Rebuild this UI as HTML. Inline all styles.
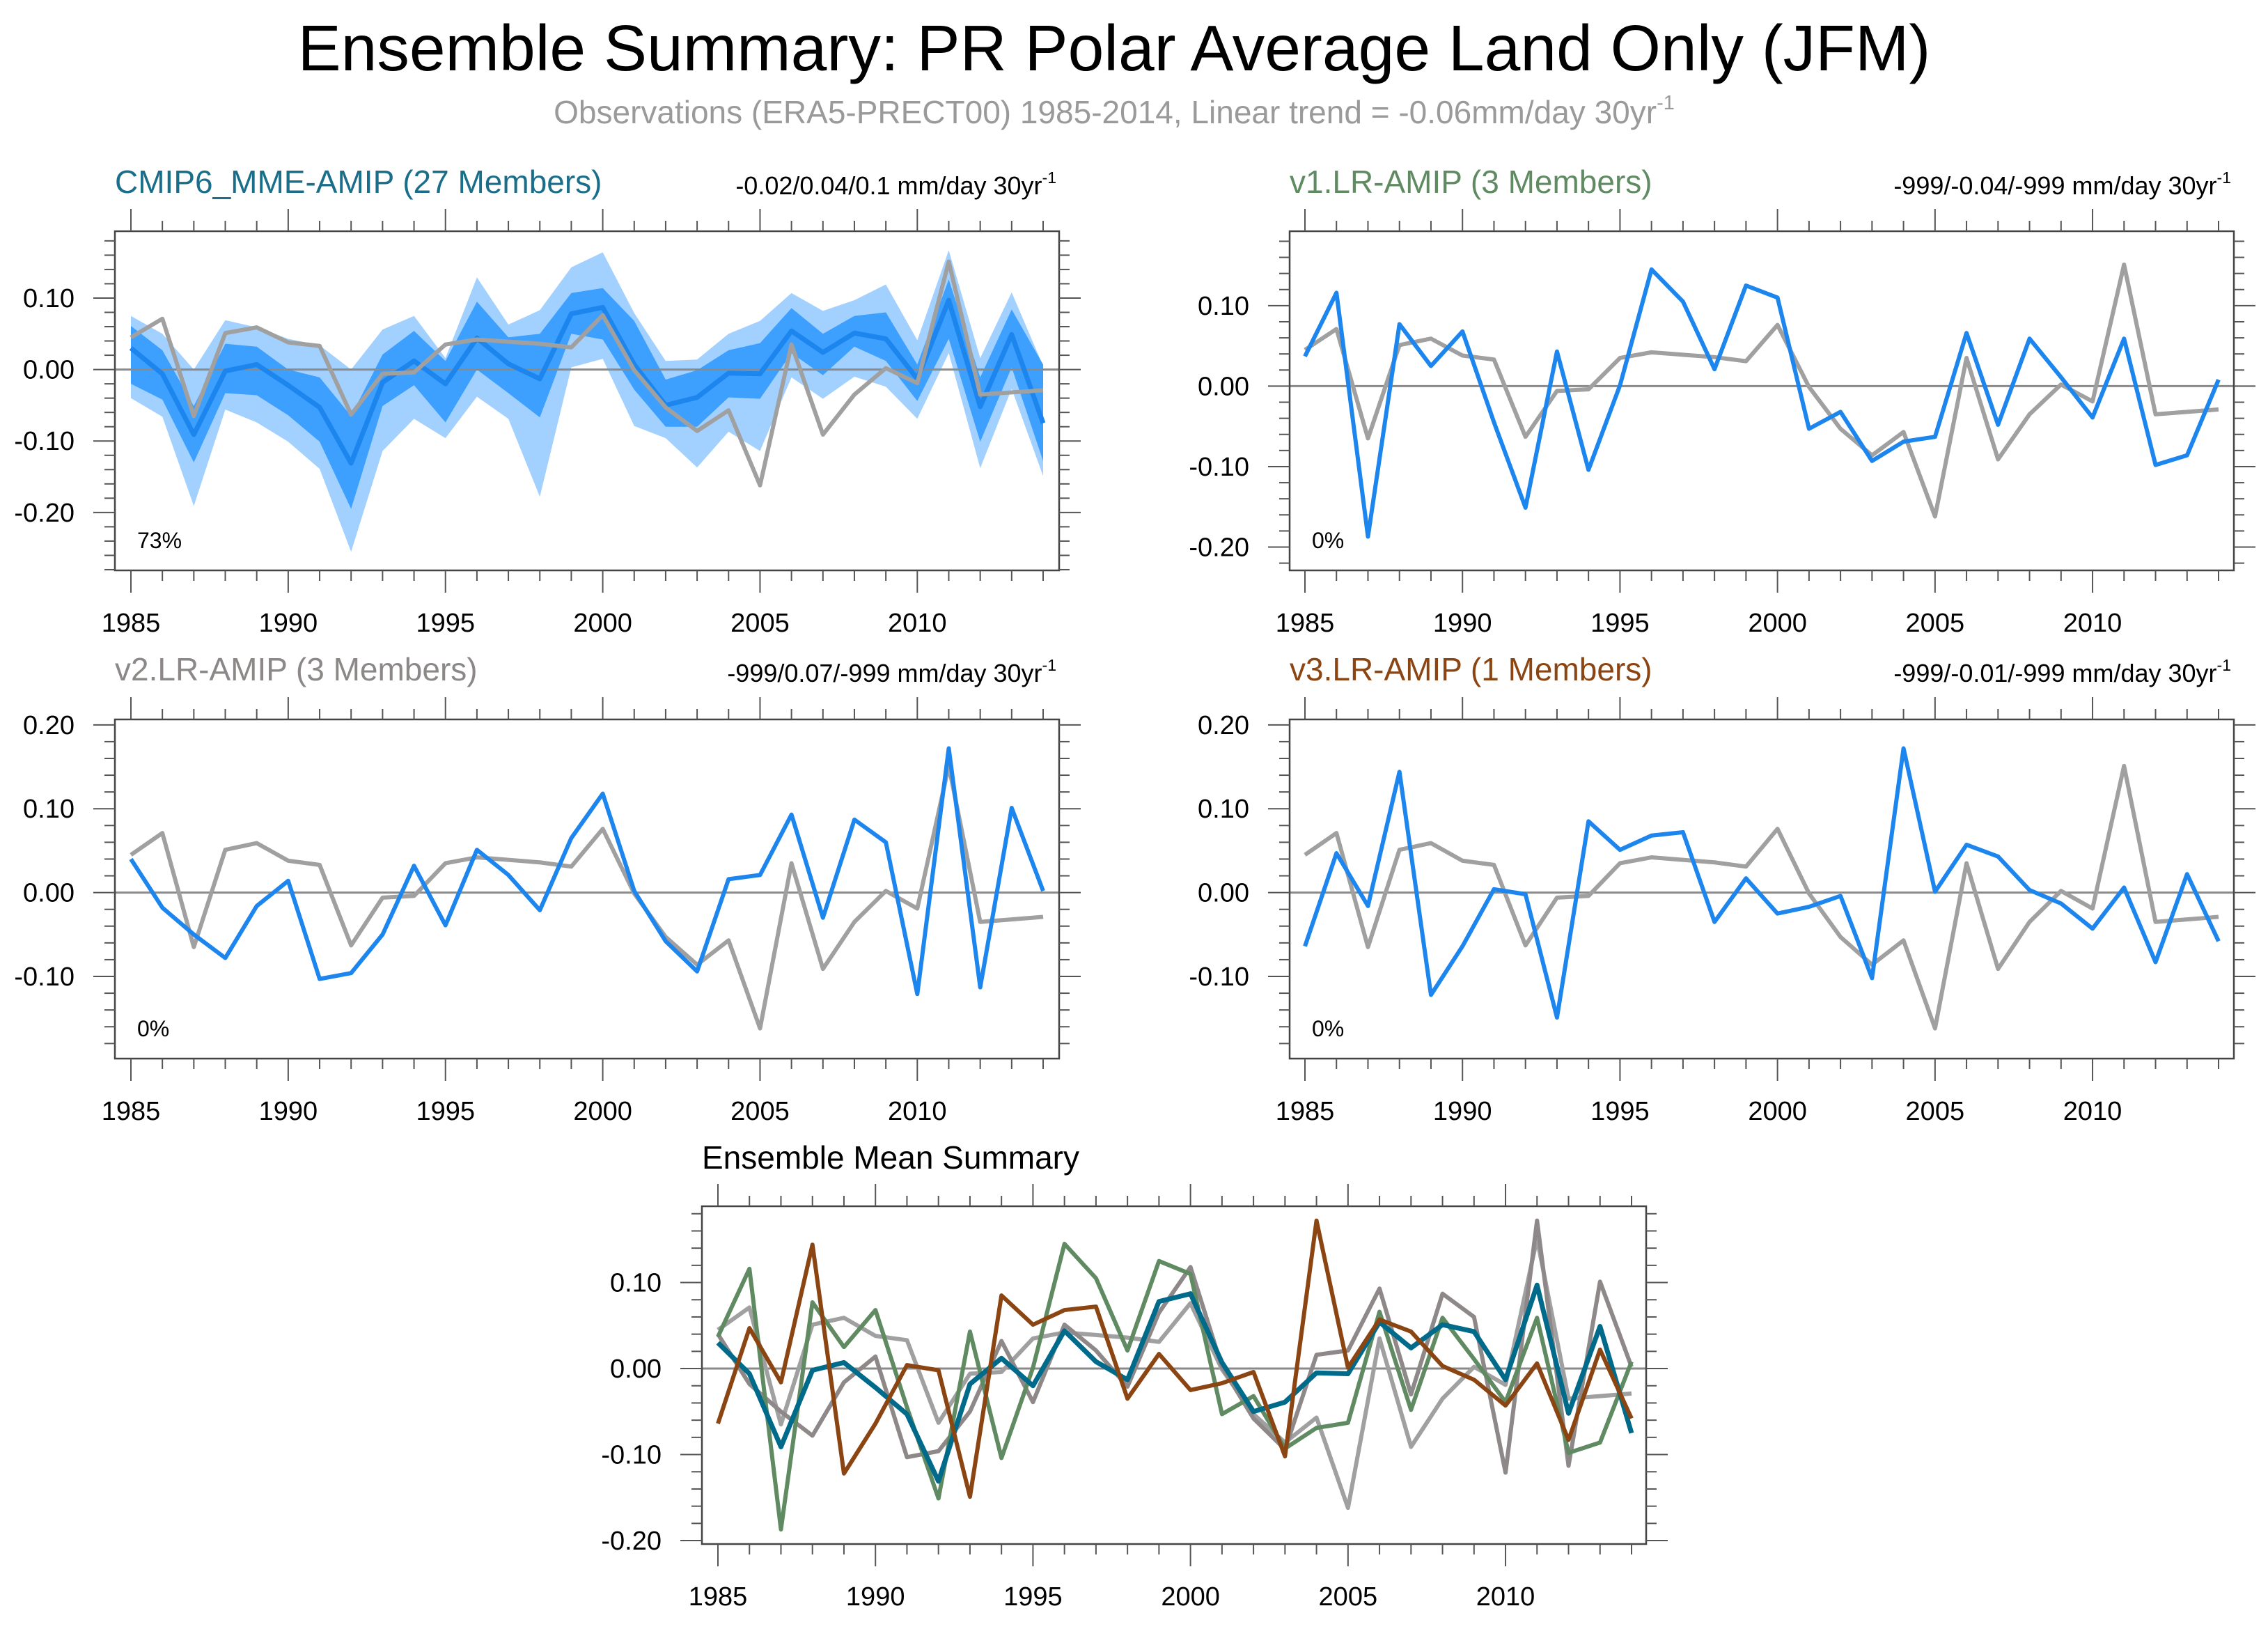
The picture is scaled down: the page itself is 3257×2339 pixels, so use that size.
<!DOCTYPE html>
<html><head><meta charset="utf-8"><style>
html,body{margin:0;padding:0;background:#fff;}
svg{display:block;font-family:"Liberation Sans",sans-serif;}
</style></head><body>
<svg id="chart" width="3257" height="2339" viewBox="0 0 3257 2339" xmlns="http://www.w3.org/2000/svg">
<rect width="3257" height="2339" fill="#fff"/>
<text x="1600" y="101" font-size="93" text-anchor="middle" fill="#000">Ensemble Summary: PR Polar Average Land Only (JFM)</text>
<text x="1600" y="177" font-size="46" text-anchor="middle" fill="#9a9a9a">Observations (ERA5-PRECT00) 1985-2014, Linear trend = -0.06mm/day 30yr<tspan font-size="29" dy="-20">-1</tspan></text>
<g id="panels"></g>
</svg>
<script>
const years = [1985,1986,1987,1988,1989,1990,1991,1992,1993,1994,1995,1996,1997,1998,1999,2000,2001,2002,2003,2004,2005,2006,2007,2008,2009,2010,2011,2012,2013,2014];
const obs = [0.045,0.071,-0.065,0.051,0.059,0.038,0.033,-0.063,-0.006,-0.004,0.035,0.042,0.039,0.036,0.031,0.076,-0.001,-0.053,-0.086,-0.057,-0.162,0.035,-0.091,-0.035,0.002,-0.019,0.151,-0.035,-0.032,-0.029];
const mmeMean = [0.030,-0.006,-0.091,-0.002,0.007,-0.022,-0.053,-0.131,-0.018,0.012,-0.020,0.044,0.008,-0.013,0.078,0.087,0.007,-0.050,-0.039,-0.005,-0.006,0.054,0.024,0.051,0.043,-0.013,0.097,-0.052,0.049,-0.075];
const mmeDarkHi = [0.061,0.027,-0.051,0.036,0.032,0.000,-0.011,-0.065,0.021,0.054,0.012,0.095,0.045,0.050,0.107,0.114,0.068,-0.014,-0.001,0.027,0.037,0.086,0.050,0.075,0.080,0.007,0.126,-0.011,0.084,0.007];
const mmeDarkLo = [-0.020,-0.042,-0.130,-0.033,-0.036,-0.064,-0.101,-0.195,-0.051,-0.022,-0.074,0.000,-0.033,-0.067,0.050,0.042,-0.028,-0.080,-0.080,-0.039,-0.041,0.023,-0.008,0.032,0.012,-0.044,0.043,-0.101,0.003,-0.128];
const mmeLightHi = [0.075,0.050,0.000,0.069,0.059,0.043,0.034,0.000,0.056,0.075,0.016,0.129,0.063,0.083,0.143,0.164,0.079,0.012,0.014,0.050,0.068,0.107,0.082,0.097,0.119,0.041,0.167,0.016,0.108,0.005];
const mmeLightLo = [-0.040,-0.066,-0.191,-0.056,-0.074,-0.101,-0.139,-0.255,-0.114,-0.069,-0.096,-0.038,-0.069,-0.178,0.003,0.015,-0.079,-0.096,-0.137,-0.087,-0.114,-0.011,-0.041,-0.010,-0.024,-0.069,0.023,-0.138,-0.027,-0.149];
const v1Mean = [0.037,0.116,-0.187,0.077,0.025,0.068,-0.045,-0.151,0.043,-0.104,0.001,0.145,0.105,0.021,0.125,0.110,-0.053,-0.032,-0.093,-0.069,-0.063,0.066,-0.048,0.059,0.011,-0.039,0.059,-0.098,-0.086,0.008];
const v2Mean = [0.040,-0.018,-0.050,-0.078,-0.016,0.014,-0.103,-0.096,-0.050,0.032,-0.039,0.051,0.021,-0.021,0.065,0.118,0.002,-0.058,-0.094,0.016,0.021,0.093,-0.030,0.087,0.060,-0.121,0.172,-0.113,0.101,0.002];
const v3Mean = [-0.064,0.047,-0.016,0.144,-0.122,-0.064,0.004,-0.002,-0.149,0.085,0.051,0.068,0.072,-0.035,0.017,-0.025,-0.017,-0.004,-0.102,0.172,0.001,0.057,0.043,0.003,-0.013,-0.043,0.006,-0.083,0.022,-0.058];
const yTicksA = [0.1,0,-0.1,-0.2];
const yTicksB = [0.2,0.1,0,-0.1];
const yTickLabelsA = ["0.10","0.00","-0.10","-0.20"];
const yTickLabelsB = ["0.20","0.10","0.00","-0.10"];
const xTickYears = [1985,1990,1995,2000,2005,2010];

const NS = "http://www.w3.org/2000/svg";
const root = document.getElementById('panels');
function mk(tag, attrs, parent){
  const e = document.createElementNS(NS, tag);
  for (const k in attrs) e.setAttribute(k, attrs[k]);
  (parent||root).appendChild(e);
  return e;
}
const BLUE="#1c86ee", OBS="#a0a0a0";

function panel(cfg){
  const g = mk('g',{});
  
  
  const [L,T,R,B] = cfg.box;
  const xs = yr => cfg.x0 + (yr-1985)*(cfg.x1-cfg.x0)/29;
  const ys = v => T + (cfg.ymax - v)*(B-T)/(cfg.ymax-cfg.ymin);
  function band(hi, lo, color, nm){
    let d = '';
    years.forEach((y,i)=>{ d += (i?'L':'M')+xs(y)+','+ys(hi[i]); });
    for (let i=years.length-1;i>=0;i--) d += 'L'+xs(years[i])+','+ys(lo[i]);
    const p = mk('path',{d:d+'Z',fill:color,stroke:'none'},g);
    
    
  }
  if (cfg.bands){
    band(mmeLightHi, mmeLightLo, '#a3d1ff', 'spread-band-outer');
    band(mmeDarkHi, mmeDarkLo, '#3da0ff', 'spread-band-inner');
  }
  const z = mk('line',{x1:L,x2:R,y1:ys(0),y2:ys(0),stroke:'#8a8a8a','stroke-width':3},g);
  
  
  cfg.series.forEach(s=>{
    const pts = years.map((y,i)=>xs(y)+','+ys(s.data[i])).join(' ');
    const pl = mk('polyline',{points:pts,fill:'none',stroke:s.color,'stroke-width':s.w||6,'stroke-linejoin':'round'},g);
    
    
  });
  const bx = mk('rect',{x:L,y:T,width:R-L,height:B-T,fill:'none',stroke:'#444','stroke-width':2.5},g);
  
  
  const tk = mk('g',{stroke:'#555','stroke-width':2},g);
  
  
  years.forEach(y=>{
    const major = xTickYears.includes(y);
    const len = major?32:15;
    mk('line',{x1:xs(y),x2:xs(y),y1:T,y2:T-len},tk);
    mk('line',{x1:xs(y),x2:xs(y),y1:B,y2:B+len},tk);
  });
  const vStart = Math.ceil(cfg.ymin/0.02-1e-6), vEnd = Math.floor(cfg.ymax/0.02+1e-6);
  for (let k=vStart;k<=vEnd;k++){
    const v = k*0.02;
    const major = Math.abs(v*10 - Math.round(v*10))<1e-6;
    const len = major?31:15;
    mk('line',{x1:L,x2:L-len,y1:ys(v),y2:ys(v)},tk);
    mk('line',{x1:R,x2:R+len,y1:ys(v),y2:ys(v)},tk);
  }
  xTickYears.forEach(y=>{
    const t = mk('text',{x:xs(y),y:B+88,'font-size':38,'text-anchor':'middle',fill:'#000'},g);
    t.textContent = y;
    
    
  });
  cfg.yt.forEach((v,i)=>{
    const t = mk('text',{x:L-58,y:ys(v)+13,'font-size':38,'text-anchor':'end',fill:'#000'},g);
    t.textContent = cfg.ytl[i];
    
    
  });
  const tt = mk('text',{x:L,y:cfg.titleY,'font-size':46,fill:cfg.titleColor},g);
  tt.textContent = cfg.title;
  
  
  if (cfg.trend){
    const tr = mk('text',{x:R-4,y:cfg.titleY+2,'font-size':36,'text-anchor':'end',fill:'#000'},g);
    
    
    tr.textContent = cfg.trend;
    const sup = mk('tspan',{'font-size':23,dy:-16},tr);
    sup.textContent='-1';
  }
  if (cfg.pct){
    const pc = mk('text',{x:L+32,y:B-32,'font-size':32,fill:'#000'},g);
    pc.textContent = cfg.pct;
    
    
  }
}

panel({name:'panel-cmip6-mme', box:[165,332,1521,819], x0:188, x1:1498, ymin:-0.281, ymax:0.1935, yt:yTicksA, ytl:yTickLabelsA,
  bands:true, titleY:277, title:'CMIP6_MME-AMIP (27 Members)', titleColor:'#1a6e8a', trend:'-0.02/0.04/0.1 mm/day 30yr', pct:'73%',
  series:[{name:'mme-mean-line',data:mmeMean,color:'#1c86ee',w:7},{name:'observations-line',data:obs,color:OBS,w:6}]});
panel({name:'panel-v1', box:[1852,332,3208,819], x0:1874, x1:3186, ymin:-0.229, ymax:0.1925, yt:yTicksA, ytl:yTickLabelsA,
  titleY:277, title:'v1.LR-AMIP (3 Members)', titleColor:'#5f8a62', trend:'-999/-0.04/-999 mm/day 30yr', pct:'0%',
  series:[{name:'observations-line',data:obs,color:OBS,w:6},{name:'v1-mean-line',data:v1Mean,color:BLUE,w:6}]});
panel({name:'panel-v2', box:[165,1033,1521,1520], x0:188, x1:1498, ymin:-0.198, ymax:0.2065, yt:yTicksB, ytl:yTickLabelsB,
  titleY:977, title:'v2.LR-AMIP (3 Members)', titleColor:'#8c8888', trend:'-999/0.07/-999 mm/day 30yr', pct:'0%',
  series:[{name:'observations-line',data:obs,color:OBS,w:6},{name:'v2-mean-line',data:v2Mean,color:BLUE,w:6}]});
panel({name:'panel-v3', box:[1852,1033,3208,1520], x0:1874, x1:3186, ymin:-0.198, ymax:0.2065, yt:yTicksB, ytl:yTickLabelsB,
  titleY:977, title:'v3.LR-AMIP (1 Members)', titleColor:'#8b4513', trend:'-999/-0.01/-999 mm/day 30yr', pct:'0%',
  series:[{name:'observations-line',data:obs,color:OBS,w:6},{name:'v3-mean-line',data:v3Mean,color:BLUE,w:6}]});
panel({name:'panel-ensemble-mean-summary', box:[1008,1732,2364,2217], x0:1031, x1:2343, ymin:-0.204, ymax:0.1887, yt:yTicksA, ytl:yTickLabelsA,
  titleY:1678, title:'Ensemble Mean Summary', titleColor:'#000',
  series:[{name:'observations-line',data:obs,color:OBS,w:6},
          {name:'v2-mean-line',data:v2Mean,color:'#8e8889',w:6},
          {name:'v1-mean-line',data:v1Mean,color:'#5f8a62',w:6},
          {name:'mme-mean-line',data:mmeMean,color:'#006a8a',w:7},
          {name:'v3-mean-line',data:v3Mean,color:'#8b4513',w:6}]});
</script>
</body></html>
